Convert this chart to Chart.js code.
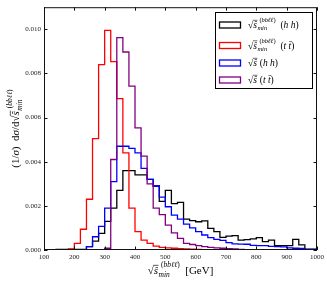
<!DOCTYPE html>
<html><head><meta charset="utf-8">
<script src="https://cdn.jsdelivr.net/npm/chart.js@4.4.0/dist/chart.umd.min.js"></script>
<style>html,body{margin:0;padding:0;background:#fff}#wrap{width:327px;height:281px}</style>
</head><body><div id="wrap"><canvas id="c" width="327" height="281"></canvas></div>
<script>
const binStarts = [100,120,140,160,180,200,220,240,260,280,300,320,340,360,380,400,420,440,460,480,500,520,540,560,580,600,620,640,660,680,700,720,740,760,780,800,820,840,860,880,900,920,940,960,980];
const binEnd = 1000;
const smin_hh = [0,0,0,0.00003,0.00003,0.00003,0.00003,0.00003,0.00015,0.0004,
  0.00075,0.0013,0.0019,0.0027,0.0036,0.0036,0.0034,0.0034,0.0032,0.0029,
  0.0022,0.0027,0.0021,0.00216,0.0014,0.00133,0.00128,0.00132,0.00098,0.00083,
  0.00057,0.00063,0.00065,0.00045,0.00047,0.0005,0.00056,0.00038,0.00045,0.0002,
  0.0002,0.0002,0.00048,0.00023,0.00003];
const smin_tt = [0,0,0,0,0.00001,0.00005,0.0003,0.00094,0.0023,0.00505,
  0.0084,0.00995,0.00853,0.00686,0.0044,0.0019,0.00083,0.00045,0.0003,0.00018,
  0.00012,0.0001,0.00008,0.00006,0.00005,0.00004,0.00003,0.00002,0.00001,0.00001,
  0,0,0,0,0,0,0,0,0,0,
  0,0,0,0,0];
const s_hh = [0,0,0,0,0,0,0,0,0.00015,0.0006,
  0.00107,0.0019,0.0031,0.0047,0.0047,0.0046,0.0044,0.0037,0.0032,0.0029,
  0.0024,0.00196,0.00158,0.0014,0.00117,0.001,0.00083,0.00068,0.00056,0.00048,
  0.00044,0.00033,0.00028,0.00027,0.00026,0.00021,0.0002,0.0002,0.00016,0.00015,
  0.00014,0.0001,0.00008,0.00007,0.00004];
const s_tt = [0,0,0,0,0,0,0,0,0,0,
  0,0.00008,0.0041,0.00962,0.00897,0.00742,0.00553,0.00425,0.003,0.0019,
  0.0016,0.00113,0.00078,0.00053,0.0003,0.00025,0.0002,0.00015,0.00012,0.0001,
  0.00008,0.00006,0.00005,0.00003,0.00002,0.00002,0.00001,0.00001,0,0,
  0,0,0,0,0];
const xTicks = [100,200,300,400,500,600,700,800,900,1000];
const yTicks = [0,0.002,0.004,0.006,0.008,0.010];
const seriesColors = ['#000000','#ff0000','#0000ff','#800080'];

const FF = '"Liberation Serif","DejaVu Serif",serif';
function F(sz,it){return (it?'italic ':'')+sz+'px '+FF;}

function drawMath(ctx, items, x, y, dry){
  let cx = x;
  for (const it of items){
    if (it.sq){
      ctx.font = F(it.sz,false);
      const w1 = ctx.measureText('\u221A').width;
      const asc = ctx.measureText('\u221A').actualBoundingBoxAscent;
      if(!dry) ctx.fillText('\u221A', cx, y);
      ctx.font = F(it.sz,true);
      const w2 = ctx.measureText(it.sq).width;
      if(!dry){
        ctx.fillText(it.sq, cx+w1, y);
        ctx.save(); ctx.lineWidth = it.sz*0.06; ctx.beginPath();
        const ly = y-asc+ctx.lineWidth/2;
        ctx.moveTo(cx+w1-0.3, ly); ctx.lineTo(cx+w1+w2+0.5, ly); ctx.stroke(); ctx.restore();
      }
      cx += w1+w2+0.5;
    } else if (it.sub){
      const ws = drawMath(ctx, it.sub, cx, y+it.subDy, dry);
      const wp = drawMath(ctx, it.sup, cx+it.supDx, y+it.supDy, dry);
      cx += Math.max(ws, wp+it.supDx);
    } else {
      ctx.font = F(it.sz, it.it);
      if(!dry) ctx.fillText(it.t, cx, y);
      cx += ctx.measureText(it.t).width;
    }
  }
  return cx-x;
}
function smin(sz, ssz, supDx){
  return [{sq:'\u015D', sz:sz},
    {sub:[{t:'min',it:true,sz:ssz}], subDy: ssz*0.35,
     sup:[{t:'(',sz:ssz},{t:'bb\u2113\u2113',it:true,sz:ssz},{t:')',sz:ssz}], supDy:-sz*0.62, supDx:supDx}];
}

const mathPlugin = {
  id:'mathPlugin',
  afterDatasetsDraw(chart){
    const ctx = chart.ctx, a = chart.chartArea, xs = chart.scales.x, ys = chart.scales.y;
    ctx.save();
    ctx.strokeStyle = '#111'; ctx.lineWidth = 1;
    ctx.strokeRect(a.left+0.5, a.top+0.5, a.right-a.left-1, a.bottom-a.top-1);
    const tl = 3.5;
    ctx.beginPath();
    for (const v of xTicks){ const px = Math.round(xs.getPixelForValue(v))+0.5;
      ctx.moveTo(px, a.bottom); ctx.lineTo(px, a.bottom-tl);
      ctx.moveTo(px, a.top); ctx.lineTo(px, a.top+tl); }
    for (const v of yTicks){ const py = Math.round(ys.getPixelForValue(v))+0.5;
      ctx.moveTo(a.left, py); ctx.lineTo(a.left+tl, py);
      ctx.moveTo(a.right, py); ctx.lineTo(a.right-tl, py); }
    ctx.stroke();
    ctx.restore();
  },
  afterDraw(chart){
    const ctx = chart.ctx, a = chart.chartArea;
    ctx.save();
    ctx.fillStyle = '#000'; ctx.strokeStyle = '#000'; ctx.textBaseline = 'alphabetic';
    // x title
    const xt = smin(11, 7.5, 2.5).concat([{t:'  [GeV]', sz:11}]);
    const wx = drawMath(ctx, xt, 0, 0, true);
    drawMath(ctx, xt, (a.left+a.right)/2 - wx/2, 274);
    // y title
    const yt = [{t:'(1/',sz:11},{t:'\u03C3',it:true,sz:11},{t:')  d',sz:11},{t:'\u03C3',it:true,sz:11},{t:'/d',sz:11}].concat(smin(11,7.5,2.5));
    const wy = drawMath(ctx, yt, 0, 0, true);
    ctx.save(); ctx.translate(19, (a.top+a.bottom)/2); ctx.rotate(-Math.PI/2);
    drawMath(ctx, yt, -wy/2, 0); ctx.restore();
    // legend
    const bx = 215.5, by = 12.5, bw = 97, bh = 76;
    ctx.fillStyle = '#fff'; ctx.fillRect(bx, by, bw, bh);
    ctx.strokeStyle = '#000'; ctx.lineWidth = 1; ctx.strokeRect(bx, by, bw, bh);
    const rows = [
      {y:25, items: smin(9.5, 6.5, 2).concat([{t:'  (',sz:9.5},{t:'h',it:true,sz:9.5},{t:' ',sz:9.5},{t:'h',it:true,sz:9.5},{t:')',sz:9.5}])},
      {y:45.5, items: smin(9.5, 6.5, 2).concat([{t:'  (',sz:9.5},{t:'t',it:true,sz:9.5},{t:' ',sz:9.5},{t:'t\u0304',it:true,sz:9.5},{t:')',sz:9.5}])},
      {y:63, items: [{sq:'\u015D', sz:9.5},{t:' (',sz:9.5},{t:'h',it:true,sz:9.5},{t:' ',sz:9.5},{t:'h',it:true,sz:9.5},{t:')',sz:9.5}]},
      {y:80, items: [{sq:'\u015D', sz:9.5},{t:' (',sz:9.5},{t:'t',it:true,sz:9.5},{t:' ',sz:9.5},{t:'t\u0304',it:true,sz:9.5},{t:')',sz:9.5}]}
    ];
    rows.forEach((r,i)=>{
      ctx.strokeStyle = seriesColors[i]; ctx.lineWidth = 1.3;
      ctx.strokeRect(219.5, r.y-3, 21, 6);
      ctx.fillStyle = '#000'; ctx.strokeStyle = '#000';
      drawMath(ctx, r.items, 248, r.y+3);
    });
    ctx.restore();
  }
};

function steps(vals){
  const pts = binStarts.map((x,i)=>({x:x, y:vals[i]}));
  pts.push({x:binEnd, y:vals[vals.length-1]});
  return pts;
}
const allSeries = [smin_hh, smin_tt, s_hh, s_tt];
const datasets = allSeries.map((v,i)=>({
  data: steps(v), stepped:'after', borderColor: seriesColors[i], borderWidth:1.3,
  pointRadius:0, fill:false, order: 4-i, tension:0
}));

new Chart(document.getElementById('c'), {
  type:'line',
  data:{datasets:datasets},
  options:{
    responsive:false, animation:false, devicePixelRatio:1,
    layout:{padding:{top:7, right:10, left:0, bottom:0}},
    plugins:{legend:{display:false}, tooltip:{enabled:false}},
    scales:{
      x:{type:'linear', min:100, max:1000,
        afterFit(s){s.height=31;},
        afterBuildTicks(s){s.ticks = xTicks.map(v=>({value:v}));},
        grid:{display:false, drawTicks:false}, border:{display:false},
        ticks:{padding:3, color:'#222', font:{family:'Liberation Serif', size:7}, maxRotation:0, autoSkip:false,
          callback:v=>String(v)}},
      y:{type:'linear', min:0, max:0.011,
        afterFit(s){s.width=44;},
        afterBuildTicks(s){s.ticks = yTicks.map(v=>({value:v}));},
        grid:{display:false, drawTicks:false}, border:{display:false},
        ticks:{padding:3, color:'#222', font:{family:'Liberation Serif', size:7}, autoSkip:false,
          callback:v=>v.toFixed(3)}}
    }
  },
  plugins:[mathPlugin]
});
</script></body></html>
